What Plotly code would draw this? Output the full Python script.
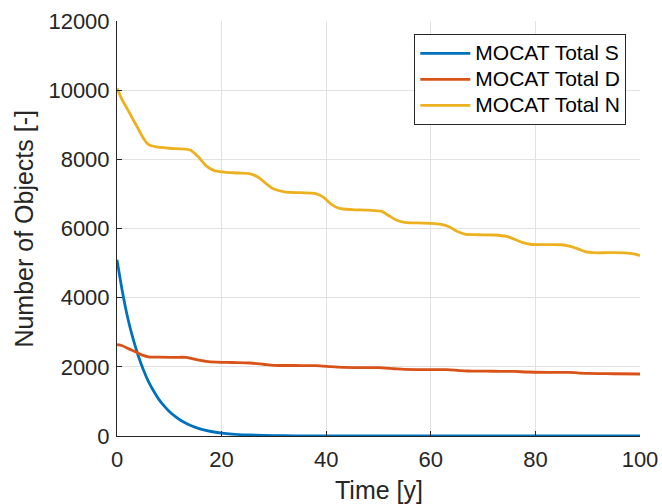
import plotly.graph_objects as go

# ---- data ----
years_S = [0, 1, 2, 3, 4, 5, 6, 7, 8, 9, 10, 11, 12, 13, 14, 15, 16, 18, 20, 22,
           25, 28, 32, 36, 40, 50, 60, 70, 80, 90, 100]
total_S = [5100, 4200, 3450, 2850, 2350, 1930, 1580, 1300, 1060, 870, 710, 580,
           470, 385, 310, 250, 200, 130, 85, 55, 30, 15, 7, 3, 1, 0, 0, 0, 0, 0, 0]

years_D = [0, 1, 2, 3, 4, 5, 6, 8, 11, 13.3, 15, 17, 19, 22, 25.5, 28, 30, 34, 38,
           41, 43.5, 47, 50, 53, 55, 60, 63, 65, 67, 72, 76, 78.5, 83, 86.5, 88,
           90, 95, 100]
total_D = [2640, 2610, 2540, 2470, 2400, 2330, 2290, 2278, 2275, 2273, 2215, 2160,
           2135, 2125, 2111, 2075, 2045, 2038, 2033, 2005, 1984, 1978, 1975, 1945,
           1926, 1920, 1917, 1900, 1880, 1872, 1866, 1850, 1842, 1839, 1825, 1808,
           1800, 1793]

years_N = [0, 1, 2, 3, 4, 5, 6, 7.5, 10, 12.5, 14, 15.5, 17, 18.5, 20.5, 23, 25.5,
           27, 28.5, 30, 32, 35, 38, 39.5, 41, 42.5, 45, 48, 50.5, 52, 53.5, 55,
           57.5, 60, 62, 63.5, 65, 66.5, 69, 72, 74.5, 76, 77.5, 79, 82, 85, 86.5,
           88, 89.5, 91, 94, 97, 99, 100]
total_N = [10050, 9720, 9450, 9170, 8900, 8620, 8430, 8357, 8320, 8300, 8270, 8080,
           7820, 7680, 7630, 7605, 7580, 7480, 7300, 7140, 7060, 7035, 7010, 6900,
           6700, 6580, 6545, 6530, 6500, 6370, 6240, 6180, 6160, 6150, 6120, 6050,
           5920, 5840, 5820, 5812, 5770, 5690, 5600, 5545, 5535, 5530, 5490, 5420,
           5330, 5300, 5300, 5295, 5260, 5213]

series_names = ["MOCAT Total S", "MOCAT Total D", "MOCAT Total N"]
series_colors = ["#0072BD", "#D95319", "#EDB120"]

x_ticks = [0, 20, 40, 60, 80, 100]
y_ticks = [0, 2000, 4000, 6000, 8000, 10000, 12000]

FONT = "Liberation Sans, Arial, Helvetica, sans-serif"
AX = "#262626"

fig = go.Figure()
for xs, ys, name, col in zip([years_S, years_D, years_N],
                             [total_S, total_D, total_N],
                             series_names, series_colors):
    fig.add_trace(go.Scatter(x=xs, y=ys, mode="lines",
                             name='<span style="font-size:21px">%s</span>' % name,
                             line=dict(color=col, width=2.8, shape="spline",
                                       smoothing=0.8)))

axis_common = dict(showline=True, linecolor=AX, linewidth=1, mirror=False,
                   ticks="inside", ticklen=5, tickcolor=AX, tickwidth=1,
                   showgrid=True, gridcolor="#e2e2e2", gridwidth=1,
                   zeroline=False, automargin=False,
                   tickfont=dict(family=FONT, size=22, color=AX))

fig.update_xaxes(range=[0, 100], tickvals=x_ticks, ticklabelstandoff=4,
                 **axis_common)
fig.update_yaxes(range=[0, 12000], tickvals=y_ticks, tickformat="d",
                 ticklabelstandoff=2, **axis_common)

fig.update_layout(
    width=662, height=504,
    margin=dict(l=117, r=22, t=21, b=68, autoexpand=False),
    paper_bgcolor="white", plot_bgcolor="white",
    showlegend=True,
    legend=dict(x=0.5685, y=0.968, xanchor="left", yanchor="top",
                bgcolor="white", bordercolor=AX, borderwidth=1,
                font=dict(family=FONT, size=17.7, color="#000000"),
                itemwidth=50, tracegroupgap=0),
    annotations=[
        dict(text="Time [y]", xref="paper", yref="paper", x=0.5, y=-0.130,
             xanchor="center", yanchor="middle", showarrow=False,
             font=dict(family=FONT, size=25, color=AX)),
        dict(text="Number of Objects [-]", xref="paper", yref="paper",
             x=-0.1795, y=0.5, xanchor="center", yanchor="middle",
             textangle=-90, showarrow=False,
             font=dict(family=FONT, size=25, color=AX)),
    ],
)

fig.write_html("out.html")
